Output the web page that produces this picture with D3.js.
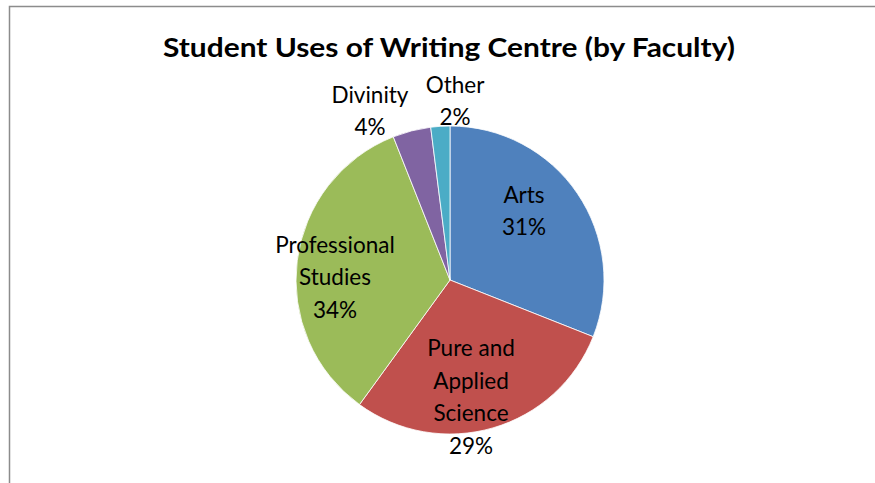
<!DOCTYPE html>
<html>
<head>
<meta charset="utf-8">
<script src="https://cdn.jsdelivr.net/npm/d3@7"></script>
<style>
  body { margin: 0; background: #fff; }
  svg { display: block; font-family: Lato, "Open Sans", sans-serif; }
</style>
</head>
<body>
<svg id="chart"></svg>
<script>
// Faculty shares
var faculties = ["Arts", "Pure and Applied Science", "Professional Studies", "Divinity", "Other"];
var shares = [31, 29, 34, 4, 2];
var labelLines = [["Arts", "31%"], ["Pure and", "Applied", "Science", "29%"], ["Professional", "Studies", "34%"], ["Divinity", "4%"], ["Other", "2%"]];
var colours = ["#4F81BD", "#C0504D", "#9BBB59", "#8064A2", "#4BACC6"];

var width = 875, height = 483;
var cx = 450, cy = 280, radius = 154;

var svg = d3.select("#chart")
  .attr("width", width)
  .attr("height", height);

// chart area border (runs off the right and bottom edges)
svg.append("rect")
  .attr("x", 9.5)
  .attr("y", 6.5)
  .attr("width", 900)
  .attr("height", 500)
  .style("fill", "#fff")
  .style("stroke", "#8c8c8c")
  .style("stroke-width", 1.5);

svg.append("text")
  .attr("x", 449)
  .attr("y", 57)
  .attr("text-anchor", "middle")
  .style("font-weight", "bold")
  .style("font-size", "26px")
  .attr("textLength", 572)
  .attr("lengthAdjust", "spacingAndGlyphs")
  .text("Student Uses of Writing Centre (by Faculty)");

var data = faculties.map(function(f, i) {
  return { name: f, value: shares[i], lines: labelLines[i], colour: colours[i] };
});

var pie = d3.pie()
  .sort(null)
  .value(function(d) { return d.value; });

var arc = d3.arc()
  .innerRadius(0)
  .outerRadius(radius);

var g = svg.append("g")
  .attr("transform", "translate(" + cx + "," + cy + ")");

var arcs = pie(data);

g.selectAll("path")
  .data(arcs)
  .enter().append("path")
  .attr("d", arc)
  .style("fill", function(d) { return d.data.colour; })
  .style("stroke", "#fff")
  .style("stroke-width", 0.8);

// label anchors (middle baseline): inside for the big slices, outside for the slim ones
var labelPos = {
  "Arts": [74, -61],
  "Pure and Applied Science": [21, 125],
  "Professional Studies": [-115, 5],
  "Divinity": [-80, -161],
  "Other": [5, -171]
};
var lineH = 32.5;

arcs.forEach(function(d) {
  var p = labelPos[d.data.name];
  var n = d.data.lines.length;
  var t = g.append("text")
    .attr("text-anchor", "middle")
    .style("font-size", "22.5px")
    .style("fill", "#000");
  d.data.lines.forEach(function(line, i) {
    t.append("tspan")
      .attr("x", p[0])
      .attr("y", p[1] + (i - (n - 1) / 2) * lineH)
      .text(line);
  });
});
</script>
</body>
</html>
